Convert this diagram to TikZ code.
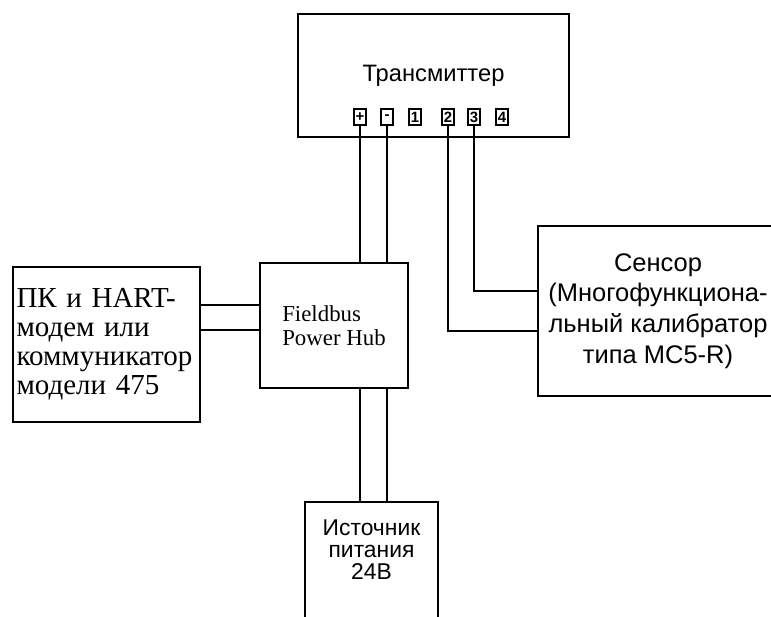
\documentclass[tikz,border=0pt]{standalone}
\usepackage{fontspec}
\setmainfont{Liberation Serif}
\setsansfont{Liberation Sans}
\usepackage{tikz}

\begin{document}
\begin{tikzpicture}[x=0.02cm,y=-0.02cm,
		box/.style={draw, line width=1pt, inner sep=0pt},
		wire/.style={line width=1pt}]
		\useasboundingbox (0,0) rectangle (771,616);
		% boxes
		\node[box, minimum width=5.42cm, minimum height=2.46cm, font=\sffamily\fontsize{13.5}{15}\selectfont] (trans) at (433.5,75.5) {Трансмиттер};
		\foreach \x/\t/\n in {360/+/tp, 387/-/tm, 415/1/t1, 448/2/t2, 474/3/t3, 502/4/t4}
		\node[box, line width=0.9pt, minimum width=0.24cm, minimum height=0.33cm, font=\sffamily\bfseries\fontsize{8.5}{9}\selectfont] (\n) at (\x,117) {\t};
		\node[box, minimum width=2.96cm, minimum height=2.5cm, align=left, font=\fontsize{13}{13.5}\selectfont] (hub) at (334,325.5) {Fieldbus\\Power Hub};
		\node[box, minimum width=3.74cm, minimum height=3.1cm, text width=3.6cm, align=left, font=\fontsize{16.5}{16.5}\selectfont] (pc) at (106.5,344.5) {ПК и HART-\\модем или\\коммуникатор\\модели 475};
		\node[box, minimum width=4.8cm, minimum height=3.4cm, align=center, font=\sffamily\fontsize{14.5}{17.5}\selectfont] (sensor) at (658,311) {Сенсор\\(Многофункциона-\\льный калибратор\\типа MC5-R)};
		\node[box, minimum width=2.66cm, minimum height=2.76cm] (power) at (371.5,571) {};
		\node[align=center, font=\sffamily\fontsize{13}{12.5}\selectfont] (powertxt) at (371.5,550) {Источник\\питания\\24В};
		% wires
		\draw[wire] (tp.south) -- (tp.south |- hub.north);
		\draw[wire] (tm.south) -- (tm.south |- hub.north);
		\draw[wire] (tp.south |- hub.south) -- (tp.south |- power.north);
		\draw[wire] (tm.south |- hub.south) -- (tm.south |- power.north);
		\draw[wire] (t3.south) |- ([yshift=0.4cm]sensor.west);
		\draw[wire] (t2.south) |- ([yshift=-0.4cm]sensor.west);
		\draw[wire] (pc.east |- 0,305) -- (hub.west |- 0,305);
		\draw[wire] (pc.east |- 0,330) -- (hub.west |- 0,330);
\end{tikzpicture}
\end{document}
